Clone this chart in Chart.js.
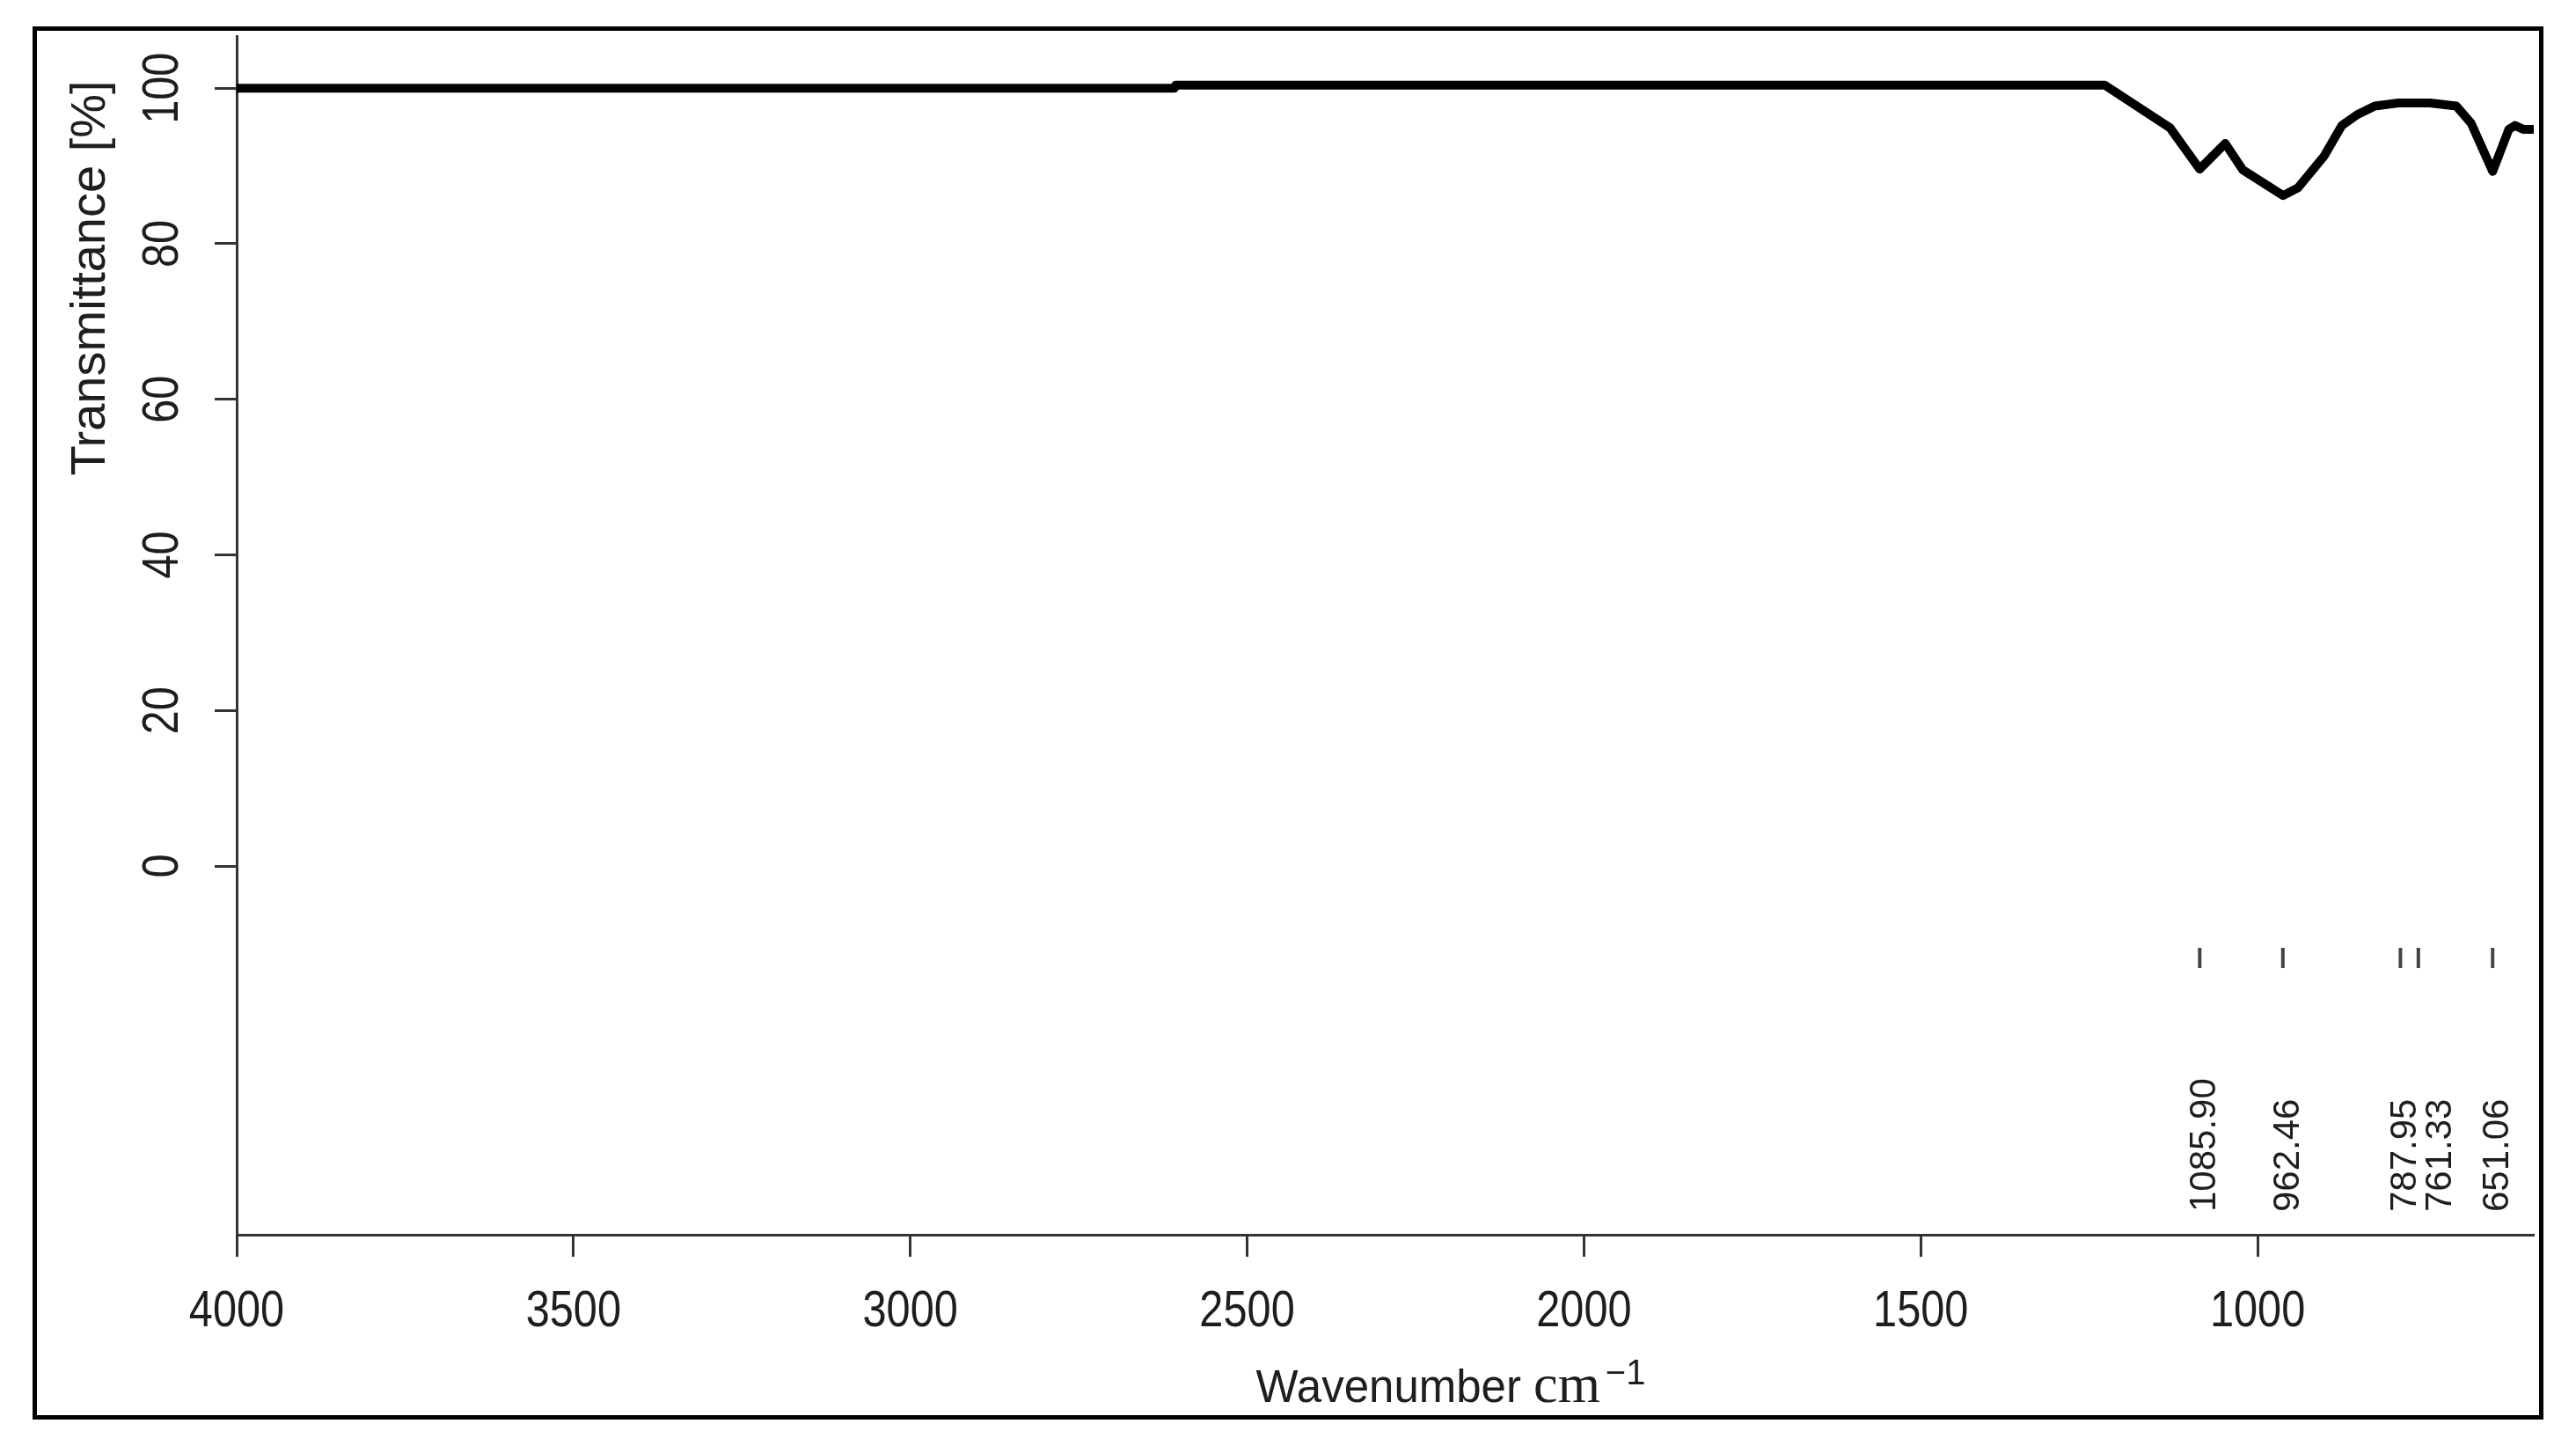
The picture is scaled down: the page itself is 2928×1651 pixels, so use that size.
<!DOCTYPE html>
<html>
<head>
<meta charset="utf-8">
<script src="https://cdn.jsdelivr.net/npm/chart.js@4.4.1/dist/chart.umd.min.js"></script>
<style>
  html, body { margin: 0; padding: 0; background: #fff; }
  canvas { display: block; }
</style>
</head>
<body>
<canvas id="ir" width="2928" height="1651"></canvas>
<script>
// spectrum (wavenumber in cm-1, transmittance in %)
const wavenumbers = [4000, 2608, 2606, 1227, 1130, 1086, 1048, 1022, 962, 940, 901, 875, 852, 826, 791, 744, 705, 683, 651, 627, 618, 605, 590];
const transmittance = [100.0, 100.0, 100.4, 100.4, 94.9, 89.6, 92.9, 89.5, 86.2, 87.2, 91.3, 95.2, 96.6, 97.7, 98.1, 98.1, 97.7, 95.5, 89.3, 94.7, 95.2, 94.7, 94.7];

const xTicks = [4000, 3500, 3000, 2500, 2000, 1500, 1000];
const yTicks = [0, 20, 40, 60, 80, 100];

const peakPositions = [1085.90, 962.46, 787.95, 761.33, 651.06];

const xTitle = 'Wavenumber';
const xUnit = 'cm';
const xUnitPower = '\u22121';
const yTitle = 'Transmittance [%]';

const sans = "'Liberation Sans', Arial, sans-serif";
const serif = "'Liberation Serif', 'Times New Roman', serif";

function drawText(ctx, text, x, y, angle, squeeze, align) {
    ctx.save();
    ctx.translate(x, y);
    ctx.rotate(angle);
    ctx.scale(squeeze, 1);
    ctx.textAlign = align;
    ctx.fillText(text, 0, 0);
    ctx.restore();
}

const decorations = {
    id: 'decorations',
    afterDraw(chart) {
        const ctx = chart.ctx;
        const xs = chart.scales.x;
        const ys = chart.scales.y;
        const area = chart.chartArea;

        ctx.save();
        ctx.fillStyle = '#1e1e1e';
        ctx.textBaseline = 'alphabetic';

        // tick labels
        ctx.font = '58px ' + sans;
        xTicks.forEach(v => drawText(ctx, String(v), xs.getPixelForValue(v), area.bottom + 104, 0, 0.84, 'center'));
        yTicks.forEach(v => drawText(ctx, String(v), area.left - 67, ys.getPixelForValue(v), -Math.PI / 2, 0.84, 'center'));

        // y title
        ctx.font = '56px ' + sans;
        drawText(ctx, yTitle, 119, 316, -Math.PI / 2, 1, 'center');

        // x title: sans word, serif unit, superscript power
        ctx.font = '51px ' + sans;
        const w1 = ctx.measureText(xTitle + ' ').width;
        ctx.font = '62px ' + serif;
        const w2 = ctx.measureText(xUnit).width;
        ctx.font = '40px ' + sans;
        const w3 = ctx.measureText(xUnitPower).width;
        let tx = 1649 - (w1 + w2 + 6 + w3) / 2;
        ctx.font = '51px ' + sans;
        drawText(ctx, xTitle, tx, 1593, 0, 1, 'left');
        tx += w1;
        ctx.font = '62px ' + serif;
        drawText(ctx, xUnit, tx, 1593, 0, 1, 'left');
        tx += w2 + 6;
        ctx.font = '40px ' + sans;
        drawText(ctx, xUnitPower, tx, 1573, 0, 1, 'left');

        // peak marks and labels
        ctx.strokeStyle = '#444';
        ctx.lineWidth = 4;
        peakPositions.forEach(p => {
            const px = xs.getPixelForValue(p);
            ctx.beginPath();
            ctx.moveTo(px, 1077);
            ctx.lineTo(px, 1100);
            ctx.stroke();
        });
        // labels that would overlap get pushed to the right
        const lx = peakPositions.map(p => xs.getPixelForValue(p) + 3);
        for (let i = 1; i < lx.length; i++) {
            if (lx[i] - lx[i - 1] < 40) lx[i] = lx[i - 1] + 40;
        }
        ctx.font = '42px ' + sans;
        peakPositions.forEach((p, i) => drawText(ctx, p.toFixed(2), lx[i] + 15, 1377, -Math.PI / 2, 1, 'left'));

        // outer frame
        ctx.strokeStyle = '#000';
        ctx.lineWidth = 5;
        ctx.strokeRect(39.5, 32.5, 2849, 1578);
        ctx.restore();
    }
};

const context = document.getElementById('ir').getContext('2d');
const chart = new Chart(context, {
    type: 'line',
    data: {
        datasets: [{
            label: 'Transmittance',
            data: wavenumbers.map((w, i) => ({ x: w, y: transmittance[i] })),
            borderColor: '#000',
            borderWidth: 10,
            borderJoinStyle: 'round',
            pointRadius: 0,
            tension: 0,
            fill: false
        }]
    },
    options: {
        responsive: false,
        animation: false,
        devicePixelRatio: 1,
        layout: { padding: { top: 41, right: 48, left: 0, bottom: 0 } },
        plugins: { legend: { display: false }, tooltip: { enabled: false } },
        scales: {
            x: {
                type: 'linear',
                reverse: true,
                min: 590,
                max: 4000,
                afterBuildTicks: scale => { scale.ticks = xTicks.map(v => ({ value: v })); },
                afterFit: scale => { scale.height = 248; },
                ticks: { display: false },
                border: { display: true, color: '#333', width: 3 },
                grid: { drawOnChartArea: false, drawTicks: true, tickLength: 25, tickWidth: 3, tickColor: '#333' }
            },
            y: {
                min: -47.4,
                max: 106.7,
                afterBuildTicks: scale => { scale.ticks = yTicks.map(v => ({ value: v })); },
                afterFit: scale => { scale.width = 269; },
                ticks: { display: false },
                border: { display: true, color: '#333', width: 3 },
                grid: { drawOnChartArea: false, drawTicks: true, tickLength: 25, tickWidth: 3, tickColor: '#333' }
            }
        }
    },
    plugins: [decorations]
});
</script>
</body>
</html>
